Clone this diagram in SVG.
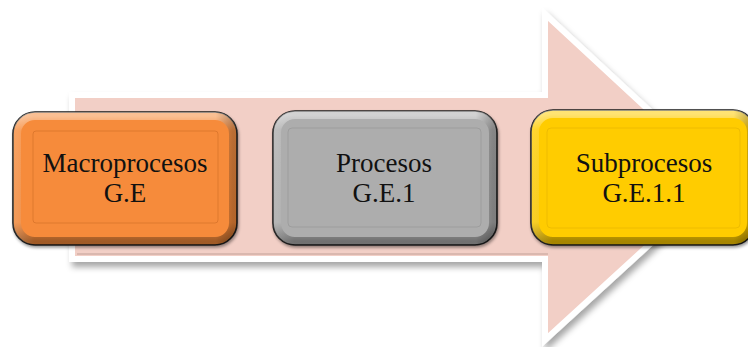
<svg xmlns="http://www.w3.org/2000/svg" width="748" height="347" viewBox="0 0 748 347">
  <defs>
    <filter id="shadow" x="-10%" y="-10%" width="125%" height="125%">
      <feDropShadow dx="3" dy="5" stdDeviation="3" flood-color="#000" flood-opacity="0.35"/>
    </filter>
    <filter id="bshadow" x="-10%" y="-10%" width="125%" height="125%">
      <feDropShadow dx="1" dy="2" stdDeviation="1.5" flood-color="#000" flood-opacity="0.4"/>
    </filter>
    <linearGradient id="bevel" x1="0" y1="0" x2="0" y2="1">
      <stop offset="0" stop-color="#fff" stop-opacity="0.45"/>
      <stop offset="0.12" stop-color="#fff" stop-opacity="0.05"/>
      <stop offset="0.85" stop-color="#000" stop-opacity="0.03"/>
      <stop offset="1" stop-color="#000" stop-opacity="0.35"/>
    </linearGradient>
    <linearGradient id="bevelH" x1="0" y1="0" x2="1" y2="0">
      <stop offset="0" stop-color="#fff" stop-opacity="0.15"/>
      <stop offset="0.08" stop-color="#fff" stop-opacity="0"/>
      <stop offset="0.92" stop-color="#000" stop-opacity="0"/>
      <stop offset="1" stop-color="#000" stop-opacity="0.25"/>
    </linearGradient>
  </defs>
  <style>
    .box { stroke: #1a1a1a; stroke-width: 1.6; }
    .bev { fill: none; stroke: url(#bevel); stroke-width: 8; }
    .bevh { fill: none; stroke: url(#bevelH); stroke-width: 8; }
    .inner { fill: none; stroke-width: 1; stroke-opacity: 0.45; }
    .lbl { font-family: "Liberation Serif", serif; font-size: 27px; fill: #111111; text-anchor: middle; }
  </style>
  <rect width="748" height="347" fill="#ffffff"/>
  <g id="arrow">
    <path d="M72 95 L545 95 L545 14 L722 178 L545 340 L545 259 L72 259 Z" fill="#F2CFC6" stroke="#ffffff" stroke-width="6" stroke-linejoin="miter" filter="url(#shadow)"/>
    <path d="M77 254 L548 254" stroke="#c9a8a0" stroke-width="2" fill="none" opacity="0.6"/>
  </g>
  <g id="node-macro">
    <rect class="box" x="13" y="112" width="224" height="133" rx="22" fill="#F68B3A" filter="url(#bshadow)"/>
    <rect class="bev" x="17" y="116" width="216" height="125" rx="18"/>
    <rect class="bevh" x="17" y="116" width="216" height="125" rx="18"/>
    <rect class="inner" x="33" y="131" width="185" height="92" rx="3" stroke="#c0621f"/>
    <text class="lbl" x="125" y="172">Macroprocesos</text>
    <text class="lbl" x="125" y="202">G.E</text>
  </g>
  <g id="node-procesos">
    <rect class="box" x="273" y="111" width="224" height="134" rx="22" fill="#ADADAD" filter="url(#bshadow)"/>
    <rect class="bev" x="277" y="115" width="216" height="126" rx="18"/>
    <rect class="bevh" x="277" y="115" width="216" height="126" rx="18"/>
    <rect class="inner" x="288" y="128" width="193" height="99" rx="4" stroke="#8a8a8a"/>
    <text class="lbl" x="384" y="172">Procesos</text>
    <text class="lbl" x="384" y="202">G.E.1</text>
  </g>
  <g id="node-sub">
    <rect class="box" x="531" y="110" width="224" height="135" rx="22" fill="#FFCC00" filter="url(#bshadow)"/>
    <rect class="bev" x="535" y="114" width="216" height="127" rx="18"/>
    <rect class="bevh" x="535" y="114" width="216" height="127" rx="18"/>
    <rect class="inner" x="547" y="128" width="193" height="100" rx="4" stroke="#d9a800"/>
    <text class="lbl" x="644" y="172">Subprocesos</text>
    <text class="lbl" x="644" y="202">G.E.1.1</text>
  </g>
  <g id="connectors"></g>
</svg>
